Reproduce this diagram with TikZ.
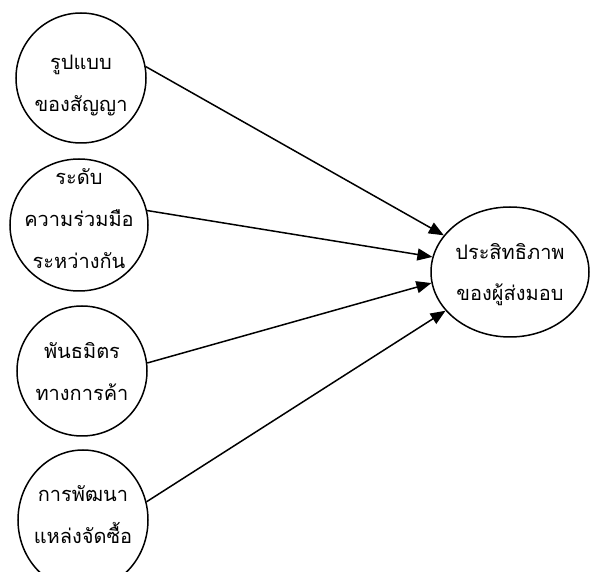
\documentclass[tikz,border=0pt]{standalone}
\usepackage{fontspec}
\newfontfamily\thaifont[Script=Thai]{Loma}
\usetikzlibrary{shapes.geometric,arrows.meta}
% stacked centred lines, lifted by #1, taking no room so the shape keeps its own size
\newcommand{\liftstack}[2]{\makebox[0pt]{\raisebox{#1}[0pt][0pt]{\begin{tabular}{@{}c@{}}#2\end{tabular}}}}
\begin{document}
\begin{tikzpicture}[x=1pt,y=-1pt,
  factor/.style={ellipse,draw,line width=1.5pt,minimum width=130pt,minimum height=130pt,inner sep=0pt,
    font=\thaifont\fontsize{20}{42}\selectfont},
  outcome/.style={ellipse,draw,line width=1.5pt,minimum width=158pt,minimum height=130pt,inner sep=0pt,
    font=\thaifont\fontsize{20}{41}\selectfont},
  link/.style={line width=1.5pt,-{Triangle[length=15pt,width=12pt]}}]
\useasboundingbox (0,0) rectangle (590,572);
\node[factor] (c1) at (81,78) {\liftstack{-9pt}{รูปแบบ\\ของสัญญา}};
\node[factor,minimum width=138pt,minimum height=132pt] (c2) at (79,225) {\liftstack{2pt}{ระดับ\\ความร่วมมือ\\ระหว่างกัน}};
\node[factor] (c3) at (82,371) {\liftstack{-5pt}{พันธมิตร\\ทางการค้า}};
\node[factor,minimum height=140pt] (c4) at (83,520) {\liftstack{1pt}{การพัฒนา\\แหล่งจัดซื้อ}};
\node[outcome] (e) at (510,272) {\liftstack{-5pt}{ประสิทธิภาพ\\ของผู้ส่งมอบ}};
\draw[link] (c1.10) -- (e.151);
\draw[link] (c2.12) -- (e.169);
\draw[link] (c3.7) -- (e.188);
\draw[link] (c4.16) -- (e.211);
\end{tikzpicture}
\end{document}
